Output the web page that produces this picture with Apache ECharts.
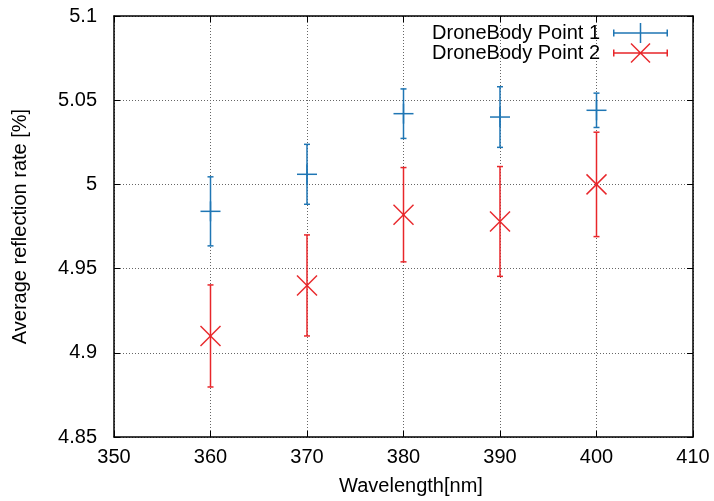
<!DOCTYPE html>
<html>
<head>
<meta charset="utf-8">
<script src="https://cdn.jsdelivr.net/npm/echarts@6/dist/echarts.min.js"></script>
<style>
  html, body { margin: 0; padding: 0; background: #fff; }
  #chart { width: 714px; height: 501px; }
</style>
</head>
<body>
<div id="chart"></div>
<script>
// Measured reflection rate per wavelength, with standard deviation
const wavelengths = [360, 370, 380, 390, 400];
const point1Mean = [4.984, 5.006, 5.042, 5.040, 5.044];
const point1Err  = [0.0205, 0.0178, 0.0147, 0.0180, 0.0102];
const point2Mean = [4.910, 4.940, 4.982, 4.978, 5.000];
const point2Err  = [0.0303, 0.0300, 0.0280, 0.0326, 0.0310];
const seriesNames = ['DroneBody Point 1', 'DroneBody Point 2'];
const xTicks = { min: 350, max: 410, step: 10 };
const yTicks = { min: 4.85, max: 5.1, step: 0.05 };

const BLUE = '#1f76b4';
const RED = '#e8262a';
const FONT = '"Liberation Sans", Arial, Helvetica, sans-serif';
const FS = 20;

function rows(means, errs) {
  return wavelengths.map((w, i) => [w, means[i], means[i] - errs[i], means[i] + errs[i]]);
}

function errorBarRenderer(color, marker) {
  return function (params, api) {
    const c = api.coord([api.value(0), api.value(1)]);
    const lo = api.coord([api.value(0), api.value(2)]);
    const hi = api.coord([api.value(0), api.value(3)]);
    const st = { stroke: color, lineWidth: 1.5 };
    const cap = 3, m = 10;
    const kids = [
      { type: 'line', shape: { x1: hi[0], y1: hi[1], x2: lo[0], y2: lo[1] }, style: st },
      { type: 'line', shape: { x1: hi[0] - cap, y1: hi[1], x2: hi[0] + cap, y2: hi[1] }, style: st },
      { type: 'line', shape: { x1: lo[0] - cap, y1: lo[1], x2: lo[0] + cap, y2: lo[1] }, style: st }
    ];
    if (marker === 'plus') {
      kids.push({ type: 'line', shape: { x1: c[0] - m, y1: c[1], x2: c[0] + m, y2: c[1] }, style: st });
      kids.push({ type: 'line', shape: { x1: c[0], y1: c[1] - m, x2: c[0], y2: c[1] + m }, style: st });
    } else {
      kids.push({ type: 'line', shape: { x1: c[0] - m, y1: c[1] - m, x2: c[0] + m, y2: c[1] + m }, style: st });
      kids.push({ type: 'line', shape: { x1: c[0] - m, y1: c[1] + m, x2: c[0] + m, y2: c[1] - m }, style: st });
    }
    return { type: 'group', children: kids };
  };
}

// Legend keys: error bar with end caps and the point marker in the middle
const barPath = 'M0 9.25 H55 V10.75 H0 Z M0 6.5 H1.5 V13.5 H0 Z M53.5 6.5 H55 V13.5 H53.5 Z ';
const plusIcon = 'path://' + barPath + 'M17 9.25 H38 V10.75 H17 Z M26.75 0 H28.25 V20 H26.75 Z';
const crossIcon = 'path://' + barPath + 'M17.5 1 L18.5 0 L37.5 19 L36.5 20 Z M18.5 20 L17.5 19 L36.5 0 L37.5 1 Z';

const gridLine = { show: true, lineStyle: { color: '#666', type: [1, 2], width: 1 } };
const frame = { show: true, onZero: false, lineStyle: { color: '#000', width: 1.5 } };
const ticksIn = { show: true, inside: true, length: 6, lineStyle: { color: '#000', width: 1 } };

const chart = echarts.init(document.getElementById('chart'));
chart.setOption({
  animation: false,
  textStyle: { fontFamily: FONT },
  grid: { left: 114, right: 21, top: 16, bottom: 61 },
  legend: {
    orient: 'vertical',
    right: 46,
    top: 23,
    padding: 0,
    align: 'right',
    itemWidth: 55,
    itemHeight: 20,
    itemGap: 0,
    itemStyle: { borderWidth: 0 },
    textStyle: { fontFamily: FONT, fontSize: FS, color: '#000', padding: [0, 8, 0, 0] },
    data: [
      { name: seriesNames[0], icon: plusIcon },
      { name: seriesNames[1], icon: crossIcon }
    ]
  },
  xAxis: [
    {
      type: 'value', min: xTicks.min, max: xTicks.max, interval: xTicks.step,
      name: 'Wavelength[nm]', nameLocation: 'middle', nameGap: 39,
      nameTextStyle: { fontFamily: FONT, fontSize: FS, color: '#000', padding: [0, 0, 0, 15] },
      axisLine: frame, axisTick: ticksIn, splitLine: gridLine,
      axisLabel: { fontFamily: FONT, fontSize: FS, color: '#000', margin: 10 }
    },
    {
      type: 'value', position: 'top', min: xTicks.min, max: xTicks.max, interval: xTicks.step,
      axisLine: frame, axisTick: ticksIn, splitLine: { show: false }, axisLabel: { show: false }
    }
  ],
  yAxis: [
    {
      type: 'value', min: yTicks.min, max: yTicks.max, interval: yTicks.step,
      name: 'Average reflection rate [%]', nameLocation: 'middle', nameGap: 84,
      nameTextStyle: { fontFamily: FONT, fontSize: FS, color: '#000' },
      axisLine: frame, axisTick: ticksIn, splitLine: gridLine,
      axisLabel: { fontFamily: FONT, fontSize: FS, color: '#000', margin: 17 }
    },
    {
      type: 'value', position: 'right', min: yTicks.min, max: yTicks.max, interval: yTicks.step,
      axisLine: frame, axisTick: ticksIn, splitLine: { show: false }, axisLabel: { show: false }
    }
  ],
  series: [
    {
      name: seriesNames[0], type: 'custom', xAxisIndex: 0, yAxisIndex: 0,
      itemStyle: { color: BLUE },
      encode: { x: 0, y: [1, 2, 3] },
      renderItem: errorBarRenderer(BLUE, 'plus'),
      data: rows(point1Mean, point1Err), z: 3
    },
    {
      name: seriesNames[1], type: 'custom', xAxisIndex: 0, yAxisIndex: 0,
      itemStyle: { color: RED },
      encode: { x: 0, y: [1, 2, 3] },
      renderItem: errorBarRenderer(RED, 'cross'),
      data: rows(point2Mean, point2Err), z: 3
    }
  ]
});
</script>
</body>
</html>
